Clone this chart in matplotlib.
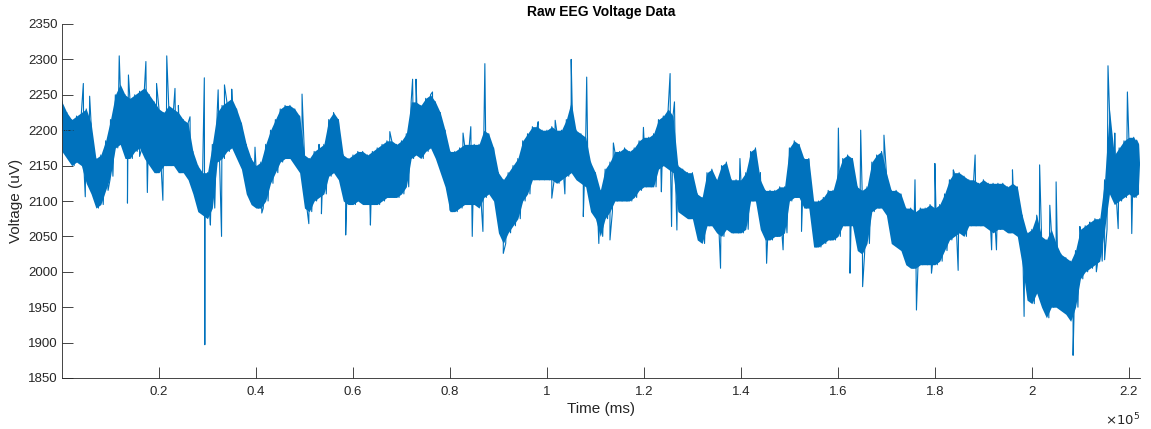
import matplotlib
matplotlib.use("Agg")
import matplotlib.pyplot as plt
import numpy as np

plt.rcParams['font.family'] = ['Liberation Sans', 'DejaVu Sans']

# envelope of the dense signal, read every 1000 ms (0 .. 222000 ms)
band_hi = [
    2240, 2225, 2215, 2220, 2225, 2230, 2210, 2160, 2165, 2185,
    2215, 2250, 2265, 2250, 2245, 2250, 2255, 2260, 2250, 2240,
    2230, 2225, 2235, 2230, 2225, 2215, 2210, 2170, 2150, 2140,
    2140, 2180, 2225, 2235, 2240, 2245, 2230, 2210, 2180, 2160,
    2150, 2155, 2180, 2200, 2215, 2230, 2235, 2235, 2230, 2220,
    2165, 2160, 2170, 2175, 2180, 2215, 2225, 2215, 2165, 2160,
    2165, 2170, 2170, 2165, 2170, 2175, 2180, 2185, 2185, 2180,
    2185, 2195, 2240, 2240, 2235, 2245, 2250, 2240, 2225, 2200,
    2170, 2170, 2175, 2180, 2180, 2180, 2180, 2200, 2195, 2175,
    2140, 2130, 2140, 2150, 2160, 2185, 2195, 2205, 2205, 2200,
    2200, 2205, 2200, 2200, 2215, 2240, 2200, 2195, 2190, 2155,
    2140, 2115, 2145, 2155, 2170, 2170, 2175, 2170, 2175, 2185,
    2190, 2190, 2195, 2215, 2220, 2230, 2220, 2150, 2145, 2140,
    2140, 2110, 2105, 2140, 2145, 2130, 2150, 2155, 2130, 2130,
    2130, 2140, 2170, 2175, 2130, 2115, 2115, 2115, 2120, 2120,
    2175, 2185, 2180, 2160, 2160, 2100, 2100, 2105, 2115, 2115,
    2140, 2160, 2165, 2160, 2120, 2115, 2120, 2155, 2165, 2170,
    2140, 2115, 2115, 2110, 2090, 2090, 2085, 2090, 2090, 2095,
    2090, 2095, 2110, 2130, 2140, 2140, 2135, 2130, 2130, 2125,
    2130, 2125, 2125, 2125, 2125, 2120, 2125, 2120, 2080, 2055,
    2060, 2080, 2050, 2045, 2060, 2040, 2025, 2020, 2015, 2030,
    2060, 2065, 2070, 2075, 2075, 2130, 2230, 2165, 2175, 2185,
    2190, 2190, 2180,
]
band_lo = [
    2170, 2160, 2150, 2155, 2150, 2125, 2110, 2090, 2095, 2115,
    2135, 2175, 2180, 2160, 2160, 2170, 2175, 2160, 2150, 2140,
    2140, 2150, 2150, 2150, 2140, 2140, 2130, 2110, 2085, 2080,
    2075, 2090, 2155, 2160, 2170, 2175, 2160, 2145, 2110, 2095,
    2090, 2090, 2100, 2125, 2140, 2155, 2160, 2160, 2150, 2140,
    2090, 2085, 2100, 2105, 2110, 2135, 2140, 2130, 2100, 2095,
    2095, 2100, 2095, 2095, 2095, 2095, 2100, 2105, 2105, 2105,
    2110, 2120, 2160, 2165, 2160, 2170, 2175, 2160, 2140, 2120,
    2085, 2085, 2090, 2095, 2095, 2095, 2090, 2105, 2110, 2100,
    2055, 2040, 2055, 2065, 2075, 2100, 2110, 2130, 2130, 2130,
    2130, 2130, 2125, 2130, 2135, 2140, 2130, 2125, 2120, 2085,
    2075, 2050, 2075, 2085, 2100, 2100, 2100, 2100, 2105, 2115,
    2120, 2120, 2120, 2145, 2150, 2145, 2140, 2085, 2080, 2075,
    2075, 2045, 2040, 2065, 2065, 2055, 2050, 2060, 2055, 2055,
    2055, 2060, 2100, 2100, 2060, 2045, 2045, 2050, 2050, 2055,
    2100, 2105, 2105, 2090, 2090, 2035, 2035, 2040, 2045, 2045,
    2050, 2065, 2065, 2065, 2030, 2025, 2040, 2085, 2090, 2090,
    2080, 2040, 2035, 2030, 2010, 2005, 2005, 2010, 2010, 2010,
    2010, 2015, 2030, 2045, 2050, 2055, 2050, 2065, 2065, 2065,
    2065, 2060, 2055, 2060, 2060, 2055, 2055, 2050, 2010, 1960,
    1955, 1970, 1950, 1935, 1950, 1950, 1945, 1940, 1930, 1950,
    1990, 2000, 2005, 2010, 2015, 2060, 2110, 2095, 2100, 2105,
    2110, 2105, 2110,
]
band_time = [1000 * i for i in range(len(band_hi))]

# isolated spikes (time in ms, voltage in uV)
spike_time = [4400, 4800, 5700, 9900, 11800, 13500, 13700, 16000, 17300,
              17600, 19500, 20800, 21600, 23300, 24000, 26400, 29350, 29450,
              30600, 32200, 32900, 33500, 35000, 39800, 41200, 49500, 50900,
              53000, 53500, 58500, 63600, 67600, 72300, 73000, 76400, 80000,
              82700, 84300, 84600, 86800, 87200, 91000, 98200, 101000,
              101700, 103700, 105000, 107500, 108200, 110700, 113000,
              113700, 119900, 122300, 123600, 125400, 125700, 126300,
              126800, 135800, 139800, 144000, 145300, 148700, 152500,
              160100, 162500, 164700, 165100, 169500, 175900, 176200,
              179300, 180000, 183800, 184800, 188300, 191700, 192700,
              196000, 198400, 201600, 203700, 205000, 208500, 209900,
              211900, 213300, 215000, 215700, 217100, 217800, 219700,
              220600, 221600]
spike_volt = [2266, 2106, 2248, 2130, 2305, 2097, 2278, 2163, 2297,
              2112, 2266, 2101, 2305, 2259, 2235, 2219, 2274, 1897,
              2066, 2257, 2050, 2264, 2258, 2176, 2083, 2251, 2068,
              2180, 2082, 2052, 2066, 2198, 2272, 2272, 2254, 2087,
              2196, 2205, 2050, 2057, 2294, 2026, 2212, 2104,
              2214, 2110, 2300, 2078, 2275, 2040, 2045,
              2182, 2204, 2190, 2113, 2280, 2064, 2240,
              2059, 2005, 2160, 2140, 2012, 2031, 2057,
              2203, 1998, 2200, 1979, 2193, 2130, 1946,
              1998, 2153, 2144, 2002, 2165, 2031, 2031,
              2144, 1937, 2151, 2094, 2127, 1882, 2064,
              2070, 2000, 2017, 2291, 2196, 2061, 2254,
              2054, 2186]

# zigzag trace through the envelope, with the spikes merged in
trace = [(t, h) for t, h in zip(band_time, band_hi)]
trace += [(t + 500, l) for t, l in zip(band_time, band_lo)]
trace += list(zip(spike_time, spike_volt))
trace.sort(key=lambda p: p[0])
trace_t = [p[0] for p in trace]
trace_v = [p[1] for p in trace]

blue = '#0072BD'
dark = '#262626'

fig = plt.figure(figsize=(11.51, 4.29), dpi=100)
ax = fig.add_axes([62 / 1151, 51 / 429, 1078 / 1151, 354 / 429])

ax.fill_between(band_time, band_lo, band_hi, color=blue, lw=0)
ax.plot(trace_t, trace_v, color=blue, lw=0.8)

ax.set_xlim(0, 222300)
ax.set_ylim(1850, 2350)
ax.set_yticks(np.arange(1850, 2351, 50))
xt = [20000 * k for k in range(1, 12)]
ax.set_xticks(xt)
ax.set_xticklabels(['%g' % (v / 1e5) for v in xt])

for s in ['top', 'right']:
    ax.spines[s].set_visible(False)
for s in ['left', 'bottom']:
    ax.spines[s].set_color(dark)
    ax.spines[s].set_linewidth(0.6)
ax.tick_params(direction='in', length=7.8, width=0.6, color=dark,
               labelcolor=dark, labelsize=9.5)
ax.tick_params(axis='x', pad=6)
ax.tick_params(axis='y', pad=3)

ax.set_xlabel('Time (ms)', fontsize=11, color=dark, labelpad=3)
ax.set_ylabel('Voltage (uV)', fontsize=11, color=dark, labelpad=4)
ax.set_title('Raw EEG Voltage Data', fontsize=10, fontweight='bold',
             color='black', pad=6)
ax.text(1.0, -0.095, r'$\times10^{5}$', transform=ax.transAxes, ha='right',
        va='top', fontsize=9.5, color=dark)

fig.savefig('out.png', dpi=100)
